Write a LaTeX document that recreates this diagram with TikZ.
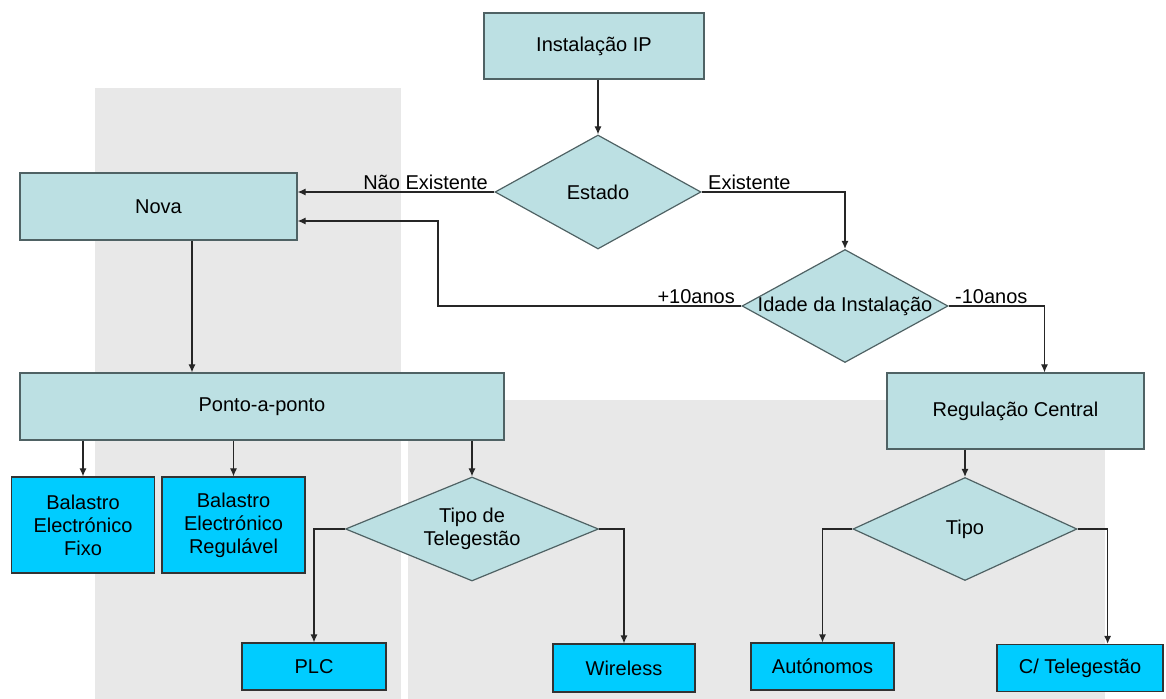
\documentclass[tikz,border=0pt]{standalone}
\usepackage{fontspec}
\setmainfont{Liberation Sans}
\usetikzlibrary{shapes.geometric,arrows.meta,calc}
\definecolor{caixa}{HTML}{BCE0E3}
\definecolor{ciano}{HTML}{00CCFF}
\definecolor{fundo}{HTML}{E8E8E8}
\definecolor{borda}{HTML}{4F6264}

\begin{document}
\begin{tikzpicture}[x=0.5pt,y=-0.5pt,
  font=\fontsize{10}{11.5}\selectfont,
  caixa/.style={draw=borda,fill=caixa,line width=0.6pt,inner sep=0pt,align=center},
  saida/.style={draw=black!80,fill=ciano,line width=0.6pt,inner sep=0pt,align=center},
  decisao/.style={diamond,draw=borda,fill=caixa,line width=0.6pt,inner sep=0pt},
  seta/.style={draw=black!85,line width=0.6pt,-{Latex[length=4pt,width=3.5pt]}},
  rotulo/.style={inner xsep=3pt,inner ysep=1pt}]
\useasboundingbox (0,0) rectangle (1166,699);
\fill[fundo] (95,88) rectangle (401,699);
\fill[fundo] (408,400) rectangle (1105,699);

\node[caixa,minimum width=110pt,minimum height=33pt] (ip) at (594,46) {Instalação IP};
\node[decisao,minimum width=103pt,minimum height=57pt,label=center:Estado] (estado) at (598,192) {};
\node[caixa,minimum width=138.5pt,minimum height=33.5pt] (nova) at (158.5,206.5) {Nova};
\node[decisao,minimum width=103pt,minimum height=56.5pt,label=center:Idade da Instalação] (idade) at (845,306) {};
\node[caixa,minimum width=242pt,minimum height=33.5pt] (ponto) at (262,406.5) {Ponto-a-ponto};
\node[caixa,minimum width=128.5pt,minimum height=38pt] (reg) at (1015.5,411) {Regulação Central};
\node[saida,minimum width=71.5pt,minimum height=48pt] (bfixo) at (83,525) {Balastro\\Electrónico\\Fixo};
\node[saida,minimum width=71.5pt,minimum height=48pt] (breg) at (233.5,525) {Balastro\\Electrónico\\Regulável};
\node[decisao,minimum width=126.5pt,minimum height=52pt,label={[align=center]center:Tipo de\\Telegestão}] (tel) at (472,529) {};
\node[decisao,minimum width=112pt,minimum height=51.5pt,label=center:Tipo] (tipo) at (965,529) {};
\node[saida,minimum width=72pt,minimum height=23.5pt] (plc) at (314,666.5) {PLC};
\node[saida,minimum width=71pt,minimum height=24pt] (wireless) at (624,668) {Wireless};
\node[saida,minimum width=71.5pt,minimum height=23.5pt] (auto) at (822.5,666.5) {Autónomos};
\node[saida,minimum width=83pt,minimum height=23.5pt] (ctele) at (1080,668) {C/ Telegestão};

\coordinate (desce) at (192,0);
\coordinate (volta) at (438,221);
\coordinate (direita) at (1044.5,0);
\coordinate (tele) at (1107.6,0);

\draw[seta] (ip.south -| estado.north) -- (estado.north);
\draw[seta] (estado.west) node[rotulo,anchor=south east] {Não Existente} -- (estado.west -| nova.east);
\draw[seta] (estado.east) node[rotulo,anchor=south west] {Existente} -| (idade.north);
\draw[seta] (idade.west) node[rotulo,anchor=south east] {+10anos} -| (volta) -- (volta -| nova.east);
\draw[seta] (idade.east) node[rotulo,anchor=south west] {-10anos} -| (reg.north -| direita);
\draw[seta] (nova.south -| desce) -- (ponto.north -| desce);
\draw[seta] (ponto.south -| bfixo.north) -- (bfixo.north);
\draw[seta] (ponto.south -| breg.north) -- (breg.north);
\draw[seta] (ponto.south -| tel.north) -- (tel.north);
\draw[seta] (tel.west) -| (plc.north);
\draw[seta] (tel.east) -| (wireless.north);
\draw[seta] (reg.south -| tipo.north) -- (tipo.north);
\draw[seta] (tipo.west) -| (auto.north);
\draw[seta] (tipo.east) -| (ctele.north -| tele);
\end{tikzpicture}
\end{document}
